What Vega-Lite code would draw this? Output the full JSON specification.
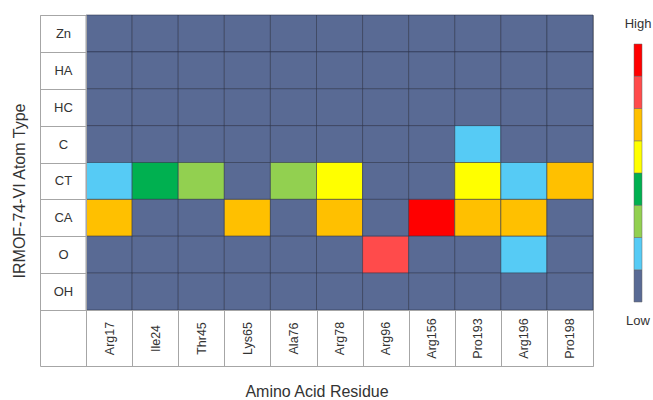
{
  "$schema": "https://vega.github.io/schema/vega-lite/v6.json",
  "width": 553,
  "height": 351,
  "autosize": {"type": "none"},
  "padding": {"left": 40, "top": 15, "right": 60, "bottom": 34},
  "config": {
    "font": "Liberation Sans",
    "view": {"stroke": "#a6a6a6", "strokeWidth": 1},
    "axis": {"grid": false}
  },
  "data": {
    "values": [
      {"residue": "Arg17", "atom": "Zn", "level": 0}, {"residue": "Ile24", "atom": "Zn", "level": 0}, {"residue": "Thr45", "atom": "Zn", "level": 0}, {"residue": "Lys65", "atom": "Zn", "level": 0}, {"residue": "Ala76", "atom": "Zn", "level": 0}, {"residue": "Arg78", "atom": "Zn", "level": 0}, {"residue": "Arg96", "atom": "Zn", "level": 0}, {"residue": "Arg156", "atom": "Zn", "level": 0}, {"residue": "Pro193", "atom": "Zn", "level": 0}, {"residue": "Arg196", "atom": "Zn", "level": 0}, {"residue": "Pro198", "atom": "Zn", "level": 0},
      {"residue": "Arg17", "atom": "HA", "level": 0}, {"residue": "Ile24", "atom": "HA", "level": 0}, {"residue": "Thr45", "atom": "HA", "level": 0}, {"residue": "Lys65", "atom": "HA", "level": 0}, {"residue": "Ala76", "atom": "HA", "level": 0}, {"residue": "Arg78", "atom": "HA", "level": 0}, {"residue": "Arg96", "atom": "HA", "level": 0}, {"residue": "Arg156", "atom": "HA", "level": 0}, {"residue": "Pro193", "atom": "HA", "level": 0}, {"residue": "Arg196", "atom": "HA", "level": 0}, {"residue": "Pro198", "atom": "HA", "level": 0},
      {"residue": "Arg17", "atom": "HC", "level": 0}, {"residue": "Ile24", "atom": "HC", "level": 0}, {"residue": "Thr45", "atom": "HC", "level": 0}, {"residue": "Lys65", "atom": "HC", "level": 0}, {"residue": "Ala76", "atom": "HC", "level": 0}, {"residue": "Arg78", "atom": "HC", "level": 0}, {"residue": "Arg96", "atom": "HC", "level": 0}, {"residue": "Arg156", "atom": "HC", "level": 0}, {"residue": "Pro193", "atom": "HC", "level": 0}, {"residue": "Arg196", "atom": "HC", "level": 0}, {"residue": "Pro198", "atom": "HC", "level": 0},
      {"residue": "Arg17", "atom": "C", "level": 0}, {"residue": "Ile24", "atom": "C", "level": 0}, {"residue": "Thr45", "atom": "C", "level": 0}, {"residue": "Lys65", "atom": "C", "level": 0}, {"residue": "Ala76", "atom": "C", "level": 0}, {"residue": "Arg78", "atom": "C", "level": 0}, {"residue": "Arg96", "atom": "C", "level": 0}, {"residue": "Arg156", "atom": "C", "level": 0}, {"residue": "Pro193", "atom": "C", "level": 1}, {"residue": "Arg196", "atom": "C", "level": 0}, {"residue": "Pro198", "atom": "C", "level": 0},
      {"residue": "Arg17", "atom": "CT", "level": 1}, {"residue": "Ile24", "atom": "CT", "level": 3}, {"residue": "Thr45", "atom": "CT", "level": 2}, {"residue": "Lys65", "atom": "CT", "level": 0}, {"residue": "Ala76", "atom": "CT", "level": 2}, {"residue": "Arg78", "atom": "CT", "level": 4}, {"residue": "Arg96", "atom": "CT", "level": 0}, {"residue": "Arg156", "atom": "CT", "level": 0}, {"residue": "Pro193", "atom": "CT", "level": 4}, {"residue": "Arg196", "atom": "CT", "level": 1}, {"residue": "Pro198", "atom": "CT", "level": 5},
      {"residue": "Arg17", "atom": "CA", "level": 5}, {"residue": "Ile24", "atom": "CA", "level": 0}, {"residue": "Thr45", "atom": "CA", "level": 0}, {"residue": "Lys65", "atom": "CA", "level": 5}, {"residue": "Ala76", "atom": "CA", "level": 0}, {"residue": "Arg78", "atom": "CA", "level": 5}, {"residue": "Arg96", "atom": "CA", "level": 0}, {"residue": "Arg156", "atom": "CA", "level": 7}, {"residue": "Pro193", "atom": "CA", "level": 5}, {"residue": "Arg196", "atom": "CA", "level": 5}, {"residue": "Pro198", "atom": "CA", "level": 0},
      {"residue": "Arg17", "atom": "O", "level": 0}, {"residue": "Ile24", "atom": "O", "level": 0}, {"residue": "Thr45", "atom": "O", "level": 0}, {"residue": "Lys65", "atom": "O", "level": 0}, {"residue": "Ala76", "atom": "O", "level": 0}, {"residue": "Arg78", "atom": "O", "level": 0}, {"residue": "Arg96", "atom": "O", "level": 6}, {"residue": "Arg156", "atom": "O", "level": 0}, {"residue": "Pro193", "atom": "O", "level": 0}, {"residue": "Arg196", "atom": "O", "level": 1}, {"residue": "Pro198", "atom": "O", "level": 0},
      {"residue": "Arg17", "atom": "OH", "level": 0}, {"residue": "Ile24", "atom": "OH", "level": 0}, {"residue": "Thr45", "atom": "OH", "level": 0}, {"residue": "Lys65", "atom": "OH", "level": 0}, {"residue": "Ala76", "atom": "OH", "level": 0}, {"residue": "Arg78", "atom": "OH", "level": 0}, {"residue": "Arg96", "atom": "OH", "level": 0}, {"residue": "Arg156", "atom": "OH", "level": 0}, {"residue": "Pro193", "atom": "OH", "level": 0}, {"residue": "Arg196", "atom": "OH", "level": 0}, {"residue": "Pro198", "atom": "OH", "level": 0}
    ]
  },
  "mark": {"type": "rect", "stroke": "#2a3248", "strokeOpacity": 0.55, "strokeWidth": 1},
  "encoding": {
    "x": {
      "field": "residue", "type": "nominal", "sort": null,
      "scale": {"paddingInner": 0, "paddingOuter": 0.5, "align": 1},
      "axis": {
        "orient": "bottom", "offset": -56, "tickBand": "extent", "tickSize": 56,
        "tickColor": "#a6a6a6", "domainColor": "#a6a6a6",
        "labelAngle": 270, "labelAlign": "center", "labelBaseline": "middle", "labelPadding": -28,
        "labelFontSize": 12.5, "labelColor": "#333333",
        "title": "Amino Acid Residue", "titleFontSize": 16, "titleFontWeight": "normal", "titleColor": "#333333", "titlePadding": 17
      }
    },
    "y": {
      "field": "atom", "type": "nominal", "sort": null,
      "scale": {"paddingInner": 0, "paddingOuter": 0.7593, "align": 0},
      "axis": {
        "orient": "left", "offset": -46, "tickBand": "extent", "tickSize": 46,
        "tickColor": "#a6a6a6", "domainColor": "#a6a6a6",
        "labelAlign": "center", "labelBaseline": "middle", "labelPadding": -23,
        "labelFontSize": 13, "labelColor": "#333333",
        "title": "IRMOF-74-VI Atom Type", "titleFontSize": 16, "titleFontWeight": "normal", "titleColor": "#333333", "titlePadding": 12
      }
    },
    "color": {
      "field": "level", "type": "quantitative",
      "scale": {"type": "quantize", "domain": [0, 8], "nice": false, "zero": false,
        "range": ["#596a94", "#56cbf5", "#92d050", "#00b050", "#ffff00", "#ffc000", "#ff4b4b", "#ff0000"]},
      "legend": {
        "type": "gradient", "direction": "vertical", "orient": "right", "offset": 32,
        "title": "High", "titleOrient": "top", "titleAnchor": "start", "titleAlign": "center",
        "titleFontSize": 13, "titleFontWeight": "normal", "titleColor": "#333333", "titlePadding": 16,
        "gradientLength": 258, "gradientThickness": 8,
        "gradientStrokeColor": "#666666", "gradientStrokeWidth": 0.5,
        "labelExpr": "datum.value == 1 ? 'Low' : ''",
        "labelFontSize": 13, "labelColor": "#333333", "labelAlign": "center", "labelBaseline": "top", "labelOffset": -4, "labelOverlap": false,
        "encode": {
          "title": {"update": {"dx": {"value": 4}, "dy": {"value": 3}, "align": {"value": "center"}}},
          "labels": {"update": {
            "align": {"value": "center"},
            "baseline": {"value": "top"},
            "dy": {"value": 45}
          }}
        }
      }
    }
  }
}
